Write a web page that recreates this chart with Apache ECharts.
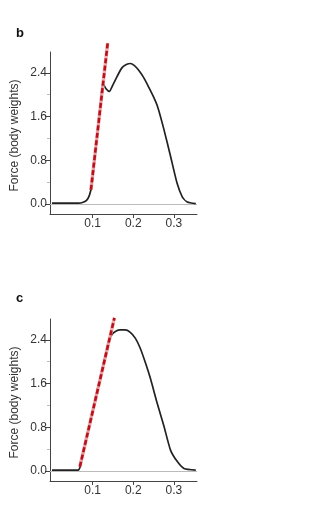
<!DOCTYPE html>
<html>
<head>
<meta charset="utf-8">
<script src="https://cdn.jsdelivr.net/npm/echarts@6/dist/echarts.min.js"></script>
<style>
html,body{margin:0;padding:0;background:#fff;}
#chart{width:334px;height:520px;}
</style>
</head>
<body>
<div id="chart"></div>
<script>
// Panel b: force trace (time s, force body weights)
var bTime  = [0, 0.03, 0.065, 0.075, 0.085, 0.092, 0.098, 0.105, 0.112, 0.119, 0.125, 0.133, 0.141, 0.150, 0.160, 0.172, 0.183, 0.193, 0.203, 0.213, 0.225, 0.238, 0.250, 0.260, 0.275, 0.292, 0.308, 0.321, 0.333, 0.354];
var bForce = [0.02, 0.02, 0.02, 0.03, 0.07, 0.16, 0.35, 0.82, 1.30, 1.77, 2.21, 2.11, 2.06, 2.18, 2.33, 2.49, 2.55, 2.57, 2.53, 2.45, 2.32, 2.14, 1.96, 1.78, 1.38, 0.87, 0.38, 0.13, 0.04, 0.01];
// Panel b: fitted slope line
var bFitTime  = [0.0958, 0.137];
var bFitForce = [0.26, 2.94];

// Panel c: force trace
var cTime  = [0, 0.03, 0.064, 0.070, 0.080, 0.090, 0.100, 0.110, 0.120, 0.130, 0.139, 0.148, 0.158, 0.168, 0.180, 0.192, 0.205, 0.217, 0.230, 0.242, 0.259, 0.276, 0.292, 0.309, 0.325, 0.354];
var cForce = [0.02, 0.02, 0.02, 0.10, 0.45, 0.78, 1.10, 1.43, 1.75, 2.07, 2.36, 2.50, 2.56, 2.58, 2.58, 2.54, 2.43, 2.25, 1.98, 1.70, 1.24, 0.81, 0.38, 0.17, 0.05, 0.02];
// Panel c: fitted slope line
var cFitTime  = [0.0685, 0.1536];
var cFitForce = [0.08, 2.80];

// Axis ticks
var xTicks = [0.1, 0.2, 0.3];
var yTicks = [0, 0.8, 1.6, 2.4];
var yMinorTicks = [0.4, 1.2, 2.0];
var panelLabels = ['b', 'c'];
var yName = 'Force (body weights)';

function pairs(xs, ys) { return xs.map(function (x, i) { return [x, ys[i]]; }); }

var FONT = '"Liberation Sans", Arial, Helvetica, sans-serif';
var axisColor = '#444';
var textColor = '#333';

function xAxisCfg(gi) {
  return {
    type: 'value', gridIndex: gi, min: -0.005, max: 0.357,
    axisLine: { show: true, onZero: false, lineStyle: { color: axisColor, width: 1 } },
    axisTick: { show: true, length: 4, customValues: xTicks, lineStyle: { color: axisColor } },
    axisLabel: { customValues: xTicks, color: textColor, fontSize: 12, fontFamily: FONT, margin: 4,
      formatter: function (v) { return v.toFixed(1); } },
    splitLine: { show: false }
  };
}
function yAxisCfg(gi) {
  return {
    type: 'value', gridIndex: gi, min: -0.18, max: 2.78,
    name: yName, nameLocation: 'middle', nameGap: 29, nameRotate: 90,
    nameTextStyle: { color: textColor, fontSize: 12, fontFamily: FONT, padding: [0, 5, 0, 0] },
    axisLine: { show: true, onZero: false, lineStyle: { color: axisColor, width: 1 } },
    axisTick: { show: true, length: 5, customValues: yTicks, lineStyle: { color: axisColor } },
    axisLabel: { customValues: yTicks, color: textColor, fontSize: 12, fontFamily: FONT, margin: 3,
      formatter: function (v) { return v.toFixed(1); } },
    splitLine: { show: false }
  };
}
function yMinorCfg(gi) {
  return {
    type: 'value', gridIndex: gi, min: -0.18, max: 2.78, position: 'left',
    axisLine: { show: false, onZero: false },
    axisTick: { show: true, length: 3, customValues: yMinorTicks, lineStyle: { color: '#bbb' } },
    axisLabel: { show: false },
    splitLine: { show: false }
  };
}

function traceSeries(gi, data) {
  return {
    type: 'line', xAxisIndex: gi, yAxisIndex: gi * 2, data: data,
    showSymbol: false, smooth: 0.2, z: 3,
    lineStyle: { color: '#222', width: 1.7 },
    markLine: {
      silent: true, symbol: 'none', label: { show: false },
      lineStyle: { color: '#bbb', width: 1, type: 'solid' },
      data: [{ yAxis: 0 }], z: 1
    }
  };
}
function fitUnder(gi, data) {
  return {
    type: 'line', xAxisIndex: gi, yAxisIndex: gi * 2, data: data, clip: false,
    showSymbol: false, z: 4,
    lineStyle: { color: '#f2a3a6', width: 3.5, opacity: 0.9 }
  };
}
function fitDash(gi, data) {
  return {
    type: 'line', xAxisIndex: gi, yAxisIndex: gi * 2, data: data, clip: false,
    showSymbol: false, z: 5,
    lineStyle: { color: '#b5121b', width: 2.6, type: [5, 2.5] }
  };
}

var chart = echarts.init(document.getElementById('chart'), null, { renderer: 'canvas' });
chart.setOption({
  backgroundColor: '#fff',
  animation: false,
  title: [
    { text: panelLabels[0], left: 16, top: 27, padding: 0, textStyle: { fontSize: 13, fontWeight: 'bold', fontFamily: FONT, color: '#111' } },
    { text: panelLabels[1], left: 16, top: 292, padding: 0, textStyle: { fontSize: 13, fontWeight: 'bold', fontFamily: FONT, color: '#111' } }
  ],
  grid: [
    { left: 50, top: 52, width: 147, height: 162 },
    { left: 50, top: 319, width: 147, height: 162 }
  ],
  xAxis: [xAxisCfg(0), xAxisCfg(1)],
  yAxis: [yAxisCfg(0), yMinorCfg(0), yAxisCfg(1), yMinorCfg(1)],
  series: [
    traceSeries(0, pairs(bTime, bForce)),
    fitUnder(0, pairs(bFitTime, bFitForce)),
    fitDash(0, pairs(bFitTime, bFitForce)),
    traceSeries(1, pairs(cTime, cForce)),
    fitUnder(1, pairs(cFitTime, cFitForce)),
    fitDash(1, pairs(cFitTime, cFitForce))
  ]
});
</script>
</body>
</html>
